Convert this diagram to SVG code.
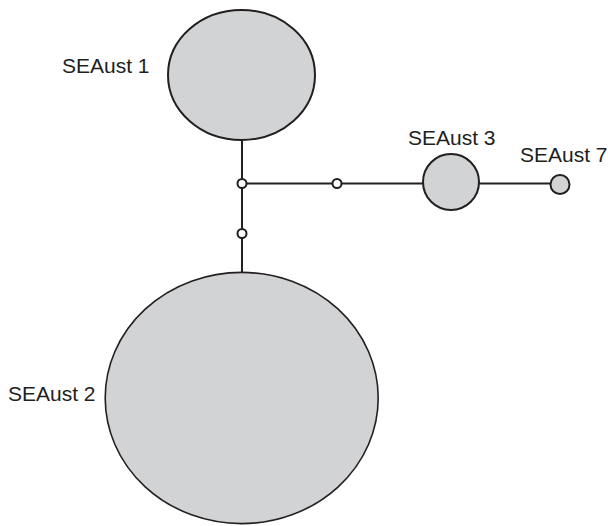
<svg xmlns="http://www.w3.org/2000/svg" width="608" height="526" viewBox="0 0 608 526">
<style>
.node{fill:#d1d3d4;stroke:#231f20;stroke-width:2}
.edge{stroke:#231f20;stroke-width:2;fill:none}
.mv{fill:#ffffff;stroke:#231f20;stroke-width:2}
.lbl{font-family:"Liberation Sans",Arial,sans-serif;font-size:21px;fill:#231f20}
</style>
<rect width="608" height="526" fill="#ffffff"/>
<g id="connectors">
<line class="edge" x1="242" y1="140" x2="242" y2="273"/>
<line class="edge" x1="242" y1="183.5" x2="424" y2="183.5"/>
<line class="edge" x1="478" y1="183.5" x2="551" y2="183.5"/>
<circle class="mv" cx="242" cy="183.5" r="4.5"/>
<circle class="mv" cx="337" cy="183.5" r="4.5"/>
<circle class="mv" cx="242" cy="233.5" r="4.5"/>
</g>
<g id="SEAust1">
<ellipse class="node" cx="241.5" cy="75" rx="73.5" ry="65"/>
<text class="lbl" x="62" y="72.5">SEAust 1</text>
</g>
<g id="SEAust2">
<ellipse class="node" style="stroke-width:1.6" cx="241.7" cy="398" rx="136.5" ry="125.6"/>
<text class="lbl" x="8" y="401">SEAust 2</text>
</g>
<g id="SEAust3">
<circle class="node" cx="451" cy="182" r="28"/>
<text class="lbl" x="408" y="145">SEAust 3</text>
</g>
<g id="SEAust7">
<circle class="node" cx="560" cy="184.5" r="9.5"/>
<text class="lbl" x="520" y="162">SEAust 7</text>
</g>
</svg>
